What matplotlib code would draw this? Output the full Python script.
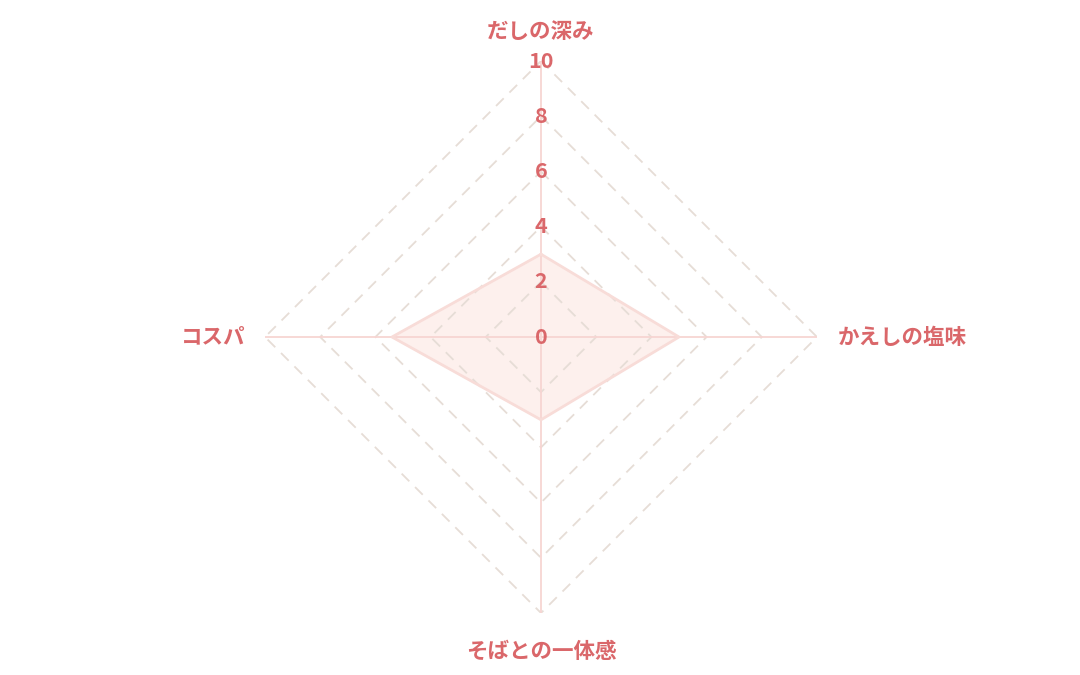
import numpy as np
import matplotlib
matplotlib.use('Agg')
import matplotlib.pyplot as plt

plt.rcParams['font.family'] = ['Noto Sans CJK JP', 'DejaVu Sans']

# data
categories = ['だしの深み', 'かえしの塩味', 'そばとの一体感', 'コスパ']
values = [3, 5, 3, 5.4]
ticks = [0, 2, 4, 6, 8, 10]
r_max = 10

TEXT_COLOR = '#da676a'
AXIS_COLOR = '#f7d5d2'
GRID_COLOR = '#e6ddd6'
FILL_COLOR = '#fdf0ed'
EDGE_COLOR = '#f8dcd8'

n = len(categories)
angles = np.arange(n) * 2 * np.pi / n
closed = np.append(angles, angles[0])

fig = plt.figure(figsize=(10.8, 6.75), dpi=100)
# centre ~ (541, 337) px, radius ~ 276 px
w = 552 / 1080
h = 552 / 675
ax = fig.add_axes([541 / 1080 - w / 2, (675 - 337) / 675 - h / 2, w, h],
                  projection='polar')
ax.set_theta_offset(np.pi / 2)
ax.set_theta_direction(-1)
ax.set_ylim(0, r_max)
ax.grid(False)
ax.spines['polar'].set_visible(False)
ax.set_xticks([])
ax.set_yticks([])
ax.patch.set_alpha(0)

# data polygon (fill under the grid)
vals = np.append(values, values[0])
ax.fill(closed, vals, color=FILL_COLOR, zorder=1)

# dashed polygon rings
for t in ticks[1:]:
    ax.plot(closed, [t] * (n + 1), color=GRID_COLOR, lw=1.3,
            ls=(0, (6, 4.5)), zorder=2)

# spokes
for a in angles:
    ax.plot([a, a], [0, r_max], color=AXIS_COLOR, lw=1.3, zorder=3)

ax.plot(closed, vals, color=EDGE_COLOR, lw=2, zorder=4)

# radial tick labels on top spoke
for t in ticks:
    ax.text(0, t, str(t), ha='center', va='center', fontsize=15.5,
            fontweight='bold', color=TEXT_COLOR, zorder=5)

# category labels
offsets = [(0, 21, 'center'), (15, 0, 'left'), (0, -28, 'center'), (-14, 0, 'right')]
for a, lab, (dx, dy, ha) in zip(angles, categories, offsets):
    ax.annotate(lab, xy=(a, r_max), xytext=(dx, dy), textcoords='offset points',
                ha=ha, va='center', fontsize=15.5, fontweight='bold',
                color=TEXT_COLOR, annotation_clip=False)

fig.savefig('out.png', dpi=100, facecolor='white')
